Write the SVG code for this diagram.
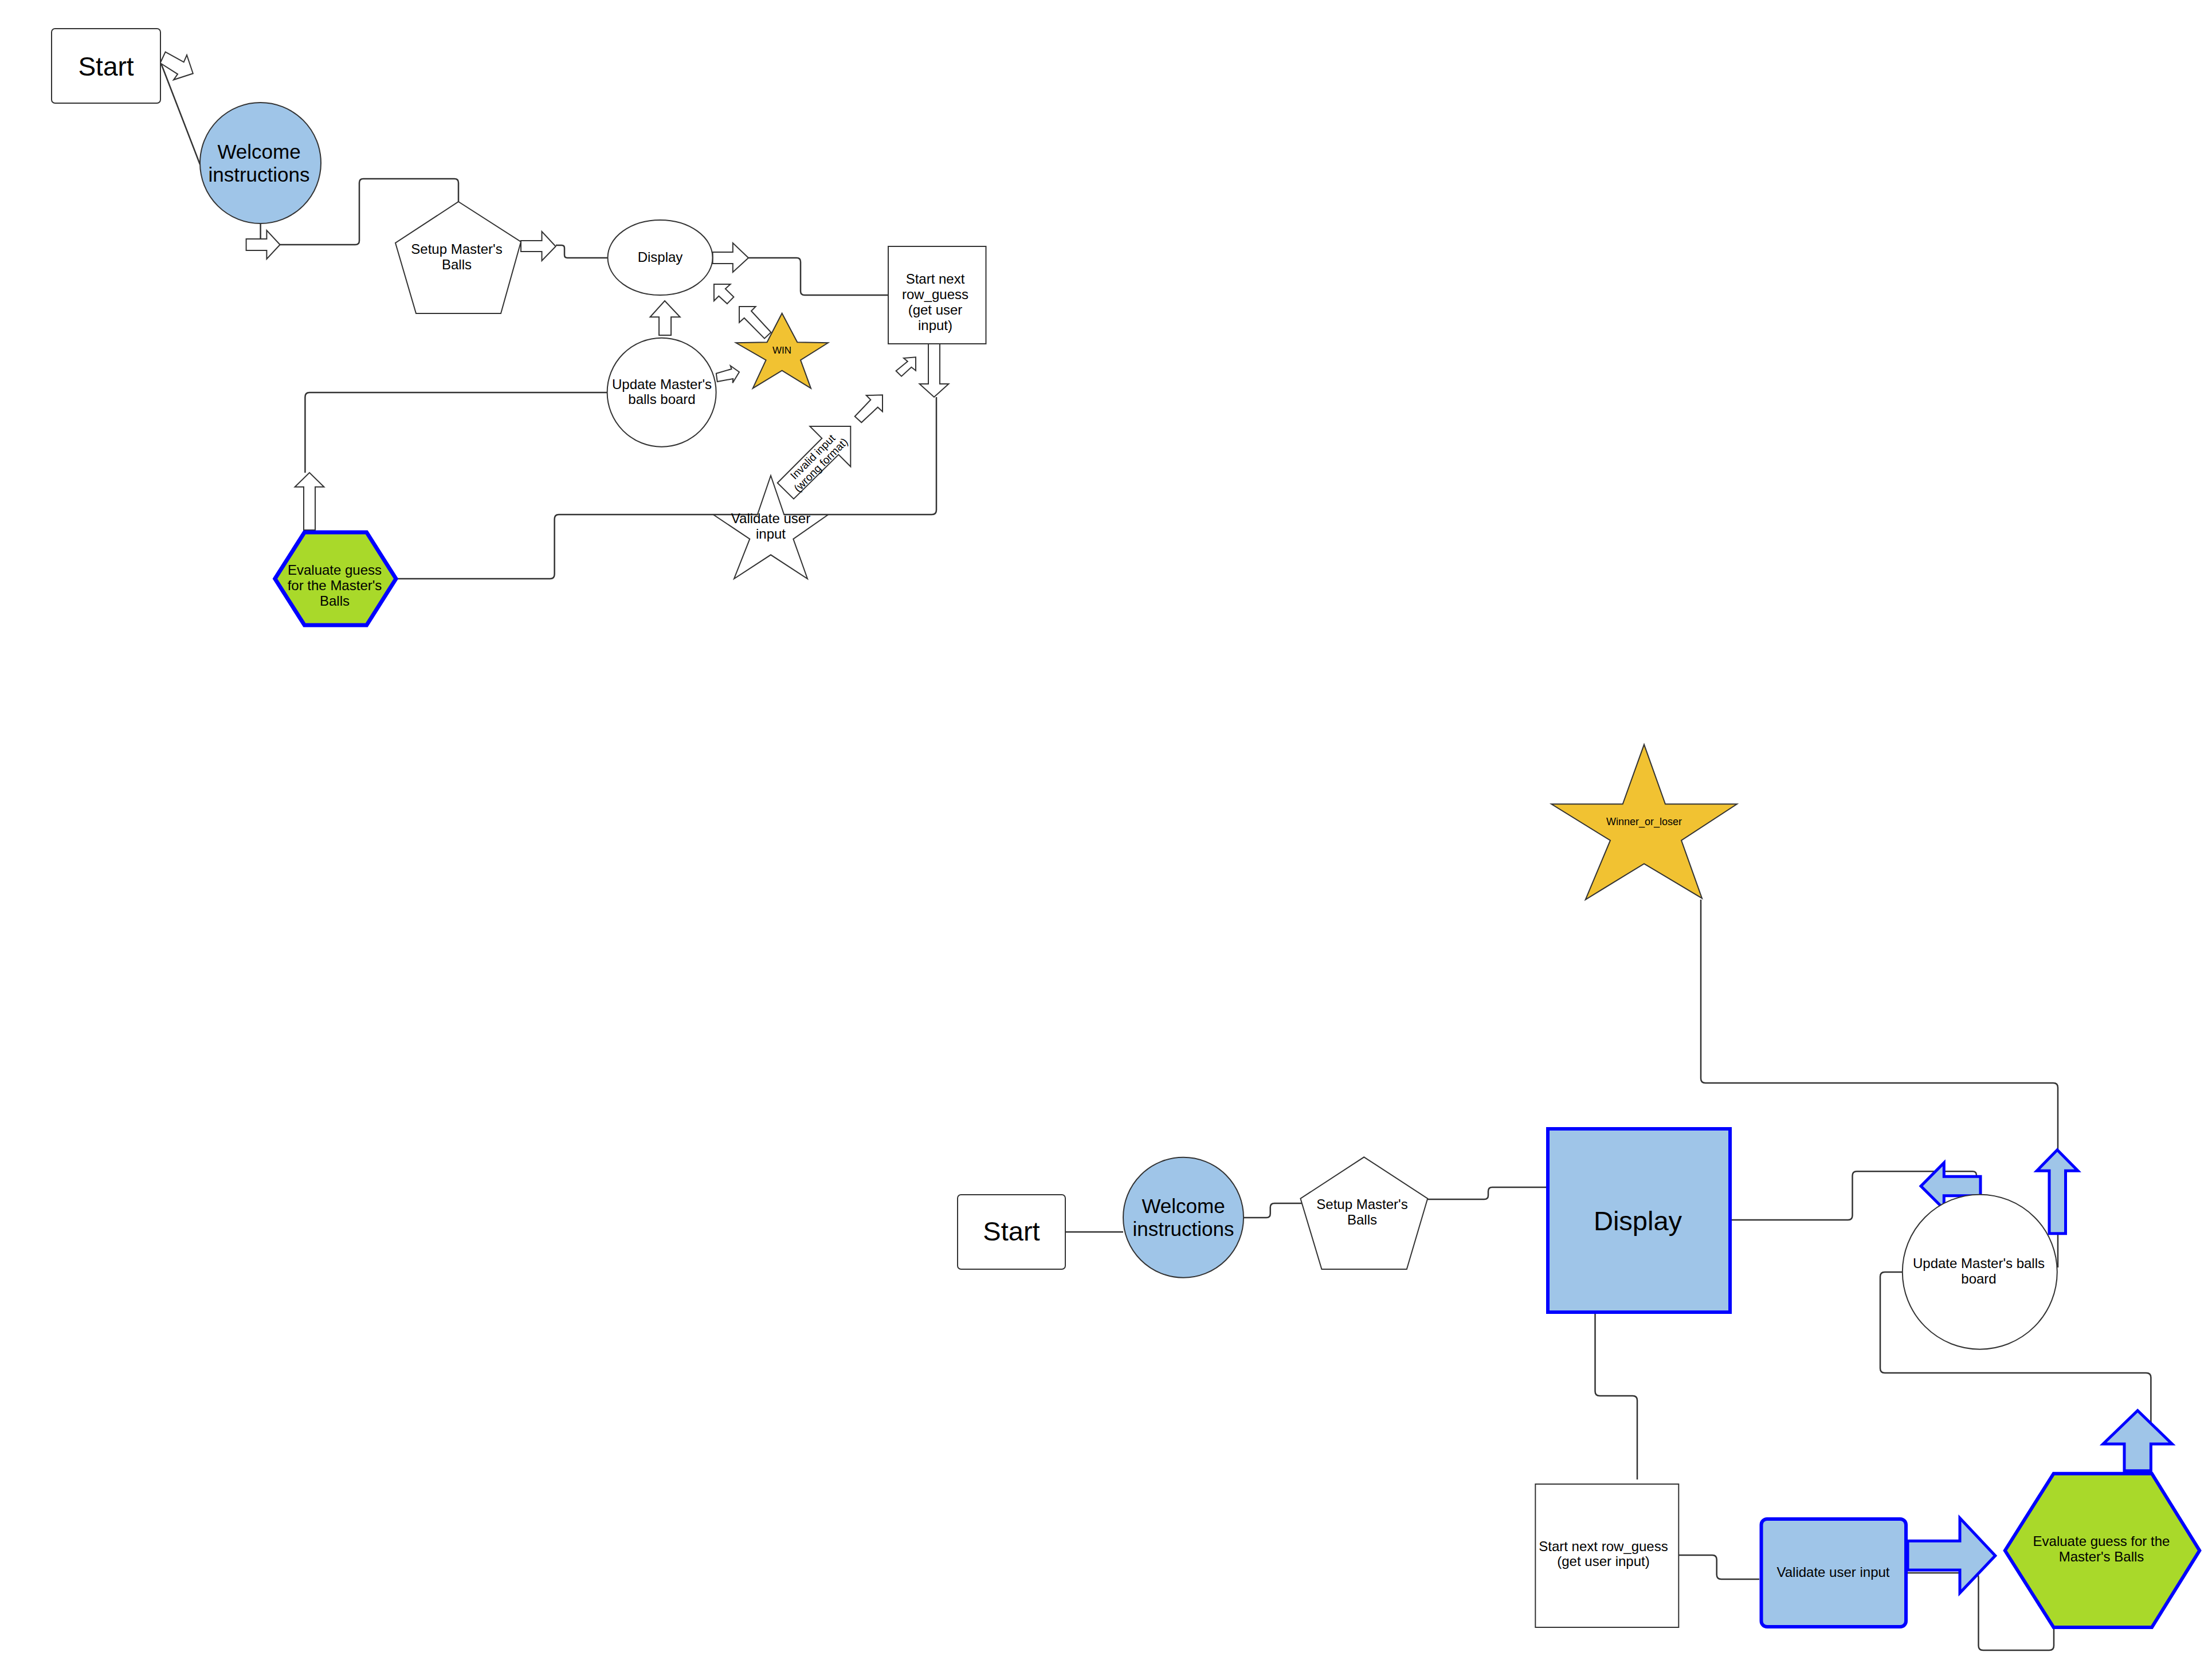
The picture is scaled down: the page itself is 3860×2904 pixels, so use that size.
<svg xmlns="http://www.w3.org/2000/svg" width="3860" height="2904" viewBox="0 0 3860 2904">
<style>
text{font-family:"Liberation Sans",Arial,sans-serif;fill:#000;text-anchor:middle}
.n{fill:#fff;stroke:#333;stroke-width:2}
.lb{fill:#9fc5e8;stroke:#333;stroke-width:2}
.gold{fill:#f1c232;stroke:#333;stroke-width:2}
.bn{fill:#9fc5e8;stroke:#0000ff;stroke-width:6}
.gn{fill:#a9d92a;stroke:#0000ff;stroke-width:7}
.c{fill:none;stroke:#333;stroke-width:2.5}
.ba{fill:#fff;stroke:#333;stroke-width:2}
.bb{fill:#9fc5e8;stroke:#0000ff;stroke-width:5}
.f24{font-size:24px}
.f35{font-size:35px}
.f47{font-size:47px}
</style>
<rect width="3860" height="2904" fill="#fff"/>
<g id="connectors">
<path class="c" d="M280,108 L349,287"/>
<path class="c" d="M454.6,390 V417"/>
<path class="c" d="M488.6,427 H620 Q627,427 627,420 V319 Q627,312 634,312 H793 Q800,312 800,319 V352"/>
<path class="c" d="M970,428 H980 Q985,428 985,433 V445 Q985,450 990,450 H1061"/>
<path class="c" d="M1306,450 H1390 Q1397,450 1397,457 V508 Q1397,515 1404,515 H1550"/>
<path class="c" d="M1634,693 V890 Q1634,898 1626,898 H975 Q967.6,898 967.6,906 V1002 Q967.6,1010 960,1010 H691"/>
<path class="c" d="M532.4,825 V693 Q532.4,685 540,685 H1060"/>
<polygon class="ba" points="288.6,90.7 320.7,108.3 326,96 336.8,128.3 302.9,139.3 310,129.3 279.6,110"/>
<polygon class="ba" points="429.6,417 465.4,417 465.4,402 488.6,427 465.4,452 465.4,437 429.6,437"/>
<polygon class="ba" points="909,420 945.5,420 945.5,404 969.7,430 945.5,455 945.5,439 909,439"/>
<polygon class="ba" points="1243.6,440 1278.8,440 1278.8,424 1306,450 1278.8,475 1278.8,460 1243.6,460"/>
<polygon class="ba" points="1620,595 1640,595 1640,670 1655.4,670 1630,693 1604.6,670 1620,670"/>
<polygon class="ba" points="1150,585 1171,585 1171,553.3 1186.7,553.3 1160,525 1134.5,553.3 1150,553.3"/>
<polygon class="ba" points="530,925 550,925 550,849.7 565.4,849.7 540,824.8 514.6,849.7 530,849.7"/>
<polygon class="ba" points="1290,535 1318.6,535 1311,542.7 1345.4,580 1334,590.7 1298.7,555 1290,562.7"/>
<polygon class="ba" points="1245.9,496 1274.6,496 1265.8,504 1280.4,518.3 1268.9,530 1254.3,516.7 1245.9,525"/>
<polygon class="ba" points="1249.8,651.7 1276.5,644 1274.6,638.3 1290,649.3 1278.5,668.3 1279.2,661 1251.7,666"/>
<polygon class="ba" points="1563.6,647.3 1583.8,630.7 1577,625 1598,623.3 1598,646.7 1590.4,640.7 1573.1,656.7"/>
<polygon class="ba" points="1491.7,726.7 1519.3,697.7 1511.7,690 1540,689.3 1540,718.3 1531.7,710.7 1503.3,737.3"/>
<g id="invalid-input">
<polygon class="ba" points="1356.7,842.7 1434.3,765 1413.3,744 1484.3,744 1484.3,814.3 1463.3,793.3 1385,870.7"/>
<g transform="translate(1425,804) rotate(-45)">
<text x="0" y="-3" font-size="19">Invalid input</text>
<text x="0" y="17" font-size="19">(wrong format)</text>
</g>
</g>
<path class="c" d="M1859,2150 H1960"/>
<path class="c" d="M2170,2125 H2210 Q2216.7,2125 2216.7,2118 V2107 Q2216.7,2100 2224,2100 H2274"/>
<path class="c" d="M2491,2093 H2590 Q2597,2093 2597,2086 V2079 Q2597,2072 2604,2072 H2698"/>
<path class="c" d="M3022,2129 H3225 Q3232.5,2129 3232.5,2121 V2052 Q3232.5,2044.3 3240,2044.3 H3442 Q3449,2044.3 3449,2051 V2055"/>
<path class="c" d="M2968,1570 V1882 Q2968,1890 2976,1890 H3583 Q3591,1890 3591,1898 V2212"/>
<path class="c" d="M2783.5,2293 V2428 Q2783.5,2436 2791.5,2436 H2849 Q2857,2436 2857,2444 V2582"/>
<path class="c" d="M2929,2714 H2988 Q2995.7,2714 2995.7,2722 V2748 Q2995.7,2756 3003.7,2756 H3070"/>
<path class="c" d="M3329,2745 H3444 Q3452.5,2745 3452.5,2753 V2872 Q3452.5,2880 3460.5,2880 H3576 Q3584,2880 3584,2872 V2840"/>
<path class="c" d="M3320,2220 H3289 Q3281,2220 3281,2228 V2388 Q3281,2396 3289,2396 H3745 Q3753.4,2396 3753.4,2404 V2483"/>
<polygon class="bb" points="3456,2053.3 3392.3,2053.3 3392.3,2029.3 3352,2070 3392.3,2110 3392.3,2086.7 3456,2086.7"/>
<polygon class="bb" points="3576,2152.7 3604.5,2152.7 3604.5,2043.3 3626,2043.3 3590,2006.7 3554.3,2043.3 3576,2043.3"/>
<polygon class="bb" points="3329,2689.3 3420,2689.3 3420,2649.3 3481.8,2715 3420,2780 3420,2740 3329,2740"/>
<polygon class="bb" points="3707,2566.7 3753.4,2566.7 3753.4,2520 3790.4,2520 3730.2,2461.7 3670,2520 3707,2520"/>
</g>
<g id="top-start">
<rect class="n" x="90" y="50" width="190" height="130" rx="6"/>
<text x="185" y="132" style="font-size:46px">Start</text>
</g>
<g id="top-welcome">
<circle class="lb" cx="454.5" cy="284.5" r="105.5"/>
<text class="f35" x="452" y="277">Welcome</text>
<text class="f35" x="452" y="317">instructions</text>
</g>
<g id="top-setup">
<polygon class="n" points="800,352 909,422 874,547 726,547 690,424"/>
<text class="f24" x="797" y="443">Setup Master's</text>
<text class="f24" x="797" y="470">Balls</text>
</g>
<g id="top-display">
<ellipse class="n" cx="1152" cy="449.5" rx="91.5" ry="65.5"/>
<text class="f24" x="1152" y="457">Display</text>
</g>
<g id="top-start-next">
<rect class="n" x="1550" y="430" width="170.5" height="170"/>
<text class="f24" x="1632" y="495">Start next</text>
<text class="f24" x="1632" y="522">row_guess</text>
<text class="f24" x="1632" y="549">(get user</text>
<text class="f24" x="1632" y="576">input)</text>
</g>
<g id="top-win">
<polygon class="gold" points="1364.6,546.7 1391.3,597.3 1445,598.3 1397,628.3 1415,677.7 1364.6,646.7 1313.7,677.7 1336.6,628.3 1284.2,598.3 1338.5,597.3"/>
<text x="1364.6" y="617" font-size="17">WIN</text>
</g>
<g id="top-update">
<circle class="n" cx="1154.6" cy="684.7" r="95"/>
<text class="f24" x="1155" y="679">Update Master's</text>
<text class="f24" x="1155" y="705">balls board</text>
</g>
<g id="top-validate">
<polygon class="n" points="1345,830 1368.3,898.3 1445,898.3 1384.3,940.7 1409,1010 1345,968.3 1281,1010 1308.3,940.7 1245,898.3 1321.7,898.3"/>
<text class="f24" x="1345" y="913">Validate user</text>
<text class="f24" x="1345" y="940">input</text>
</g>
<g id="top-evaluate">
<polygon class="gn" points="479.8,1010 531.3,929 639.7,929 691,1010 639.7,1091 531.3,1091"/>
<text class="f24" x="584" y="1003">Evaluate guess</text>
<text class="f24" x="584" y="1030">for the Master's</text>
<text class="f24" x="584" y="1057">Balls</text>
</g>
<g id="bottom-winner">
<polygon class="gold" points="2869,1299.3 2906,1403.3 3031,1403.3 2934,1466.7 2970,1567.7 2869,1507.3 2766.7,1570 2810,1466.7 2707.3,1403.3 2831.7,1403.3"/>
<text x="2869" y="1440" font-size="18">Winner_or_loser</text>
</g>
<g id="bottom-start">
<rect class="n" x="1671" y="2085" width="188" height="130" rx="6"/>
<text class="f47" x="1765" y="2165">Start</text>
</g>
<g id="bottom-welcome">
<circle class="lb" cx="2065" cy="2124.7" r="105"/>
<text class="f35" x="2065" y="2117">Welcome</text>
<text class="f35" x="2065" y="2157">instructions</text>
</g>
<g id="bottom-setup">
<polygon class="n" points="2380.3,2019.3 2491.2,2091.7 2454.8,2215 2306.4,2215 2269.4,2091.7"/>
<text class="f24" x="2377" y="2110">Setup Master's</text>
<text class="f24" x="2377" y="2137">Balls</text>
</g>
<g id="bottom-display">
<rect class="bn" x="2701" y="1970" width="318" height="320"/>
<text class="f47" x="2858" y="2147">Display</text>
</g>
<g id="bottom-update">
<circle class="n" cx="3454.8" cy="2219.7" r="135"/>
<text class="f24" x="3453" y="2213">Update Master's balls</text>
<text class="f24" x="3453" y="2240">board</text>
</g>
<g id="bottom-start-next">
<rect class="n" x="2679.3" y="2590" width="250" height="250"/>
<text class="f24" x="2798" y="2707">Start next row_guess</text>
<text class="f24" x="2798" y="2733">(get user input)</text>
</g>
<g id="bottom-validate">
<rect class="bn" x="3073.5" y="2651" width="252.5" height="188" rx="10"/>
<text class="f24" x="3199" y="2752">Validate user input</text>
</g>
<g id="bottom-evaluate">
<polygon class="gn" points="3498.8,2706 3583.6,2571.7 3755,2571.7 3838.3,2706 3755,2840 3583.6,2840" style="stroke-width:6"/>
<text class="f24" x="3667" y="2698">Evaluate guess for the</text>
<text class="f24" x="3667" y="2725">Master's Balls</text>
</g>
</svg>
